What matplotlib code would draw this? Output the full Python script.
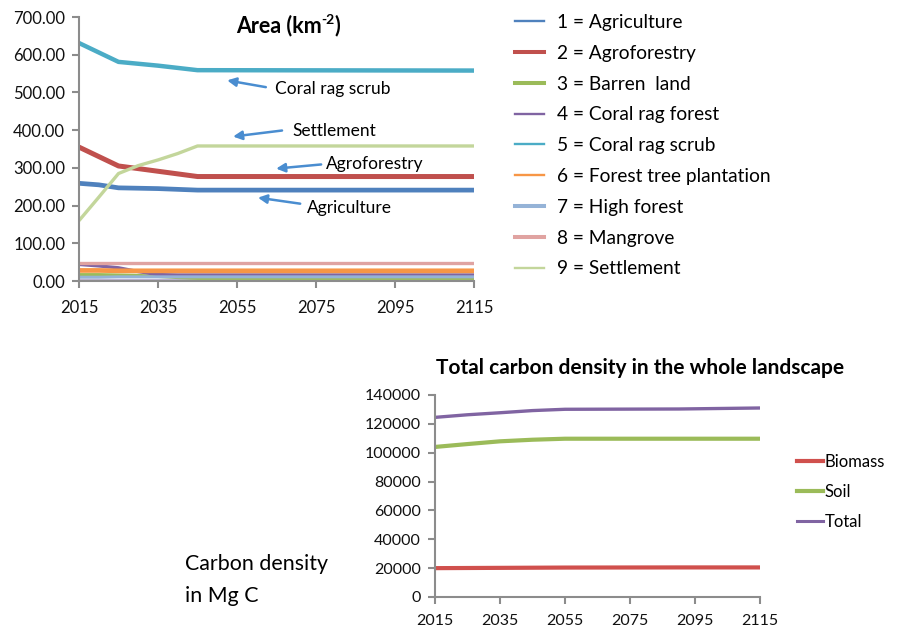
import matplotlib
matplotlib.use("Agg")
import matplotlib.pyplot as plt
from matplotlib.lines import Line2D
from matplotlib.ticker import FormatStrFormatter, FixedLocator

plt.rcParams['font.family'] = ['Lato', 'DejaVu Sans']

# ---- land-use area by class (km^-2) ----
area_years = [2015, 2020, 2025, 2030, 2035, 2040, 2045, 2115]
agriculture = [259, 255, 247, 246, 245, 243, 241, 241]
agroforestry = [355, 330, 305, 298, 291, 284, 277, 277]
barren_land = [17, 17, 16, 15, 12, 9, 7, 7]
coral_rag_forest = [44, 40, 35, 25, 17, 16, 16, 16]
coral_rag_scrub = [631, 606, 581, 576, 571, 565, 559, 558]
forest_plantation = [28, 28, 27, 27, 27, 27, 27, 27]
high_forest = [10, 10, 11, 11, 11, 11, 11, 11]
mangrove = [49, 49, 49, 49, 49, 49, 49, 49]
settlement = [160, 222, 285, 306, 321, 338, 358, 358]
other_area = [1, 1, 1, 1, 1, 1, 1, 1]

area_labels = ["1 = Agriculture", "2 = Agroforestry", "3 = Barren  land",
               "4 = Coral rag forest", "5 = Coral rag scrub",
               "6 = Forest tree plantation", "7 = High forest",
               "8 = Mangrove", "9 = Settlement"]

# ---- carbon density in the whole landscape (Mg C) ----
carbon_years = [2015, 2025, 2035, 2045, 2055, 2090, 2115]
biomass = [20000, 20100, 20200, 20300, 20400, 20500, 20500]
soil = [104000, 106000, 107900, 109000, 109700, 109700, 109700]
total = [124500, 126300, 127700, 129200, 130100, 130300, 131000]
carbon_labels = ["Biomass", "Soil", "Total"]

W, H = 917, 633
fig = plt.figure(figsize=(W / 100, H / 100), dpi=100)
renderer = fig.canvas.get_renderer()


def fx(px):
    return px / W


def fy(py):
    return 1 - py / H


axis_grey = '#8c8c8c'


def style_axes(ax, size):
    for s in ('top', 'right'):
        ax.spines[s].set_visible(False)
    for s in ('left', 'bottom'):
        ax.spines[s].set_color(axis_grey)
        ax.spines[s].set_linewidth(1.5)
    ax.tick_params(axis='both', color=axis_grey, width=1.5, length=5,
                   direction='out', labelcolor='#111111', labelsize=size)


def superscript_title(cx, cy, base, sup, tail, size):
    """Bold title with a raised, smaller superscript, centred at (cx, cy) px."""
    kw = dict(fontweight='bold', va='baseline', ha='left')
    parts = [fig.text(0, 0, base, fontsize=size, **kw),
             fig.text(0, 0, sup, fontsize=size * 0.65, **kw),
             fig.text(0, 0, tail, fontsize=size, **kw)]
    widths = [p.get_window_extent(renderer).width for p in parts]
    x = cx - sum(widths) / 2
    base_y = cy + size * 100 / 72 * 0.36
    rises = [0, size * 100 / 72 * 0.42, 0]
    for p, w, r in zip(parts, widths, rises):
        p.set_position((fx(x), fy(base_y - r)))
        x += w


# ---------- Area chart ----------
ax1 = fig.add_axes([fx(79), fy(281), fx(474 - 79), (281 - 17) / H])
series = [
    (agriculture, '#4F81BD', 3.4),
    (agroforestry, '#C0504D', 3.6),
    (barren_land, '#9BBB59', 2.2),
    (coral_rag_forest, '#8064A2', 2.4),
    (coral_rag_scrub, '#4BACC6', 3.2),
    (forest_plantation, '#F79646', 3.4),
    (high_forest, '#95B3D7', 2.2),
    (mangrove, '#E0A3A1', 2.4),
    (settlement, '#C3D69B', 2.4),
]
ax1.plot(area_years, other_area, color='#B3A7CC', lw=3.4, solid_capstyle='butt',
         label='_nolegend_', zorder=1)
for vals, col, lw in series:
    ax1.plot(area_years, vals, color=col, lw=lw, solid_capstyle='butt', zorder=2)

ax1.set_xlim(2015, 2115)
ax1.set_ylim(0, 700)
ax1.xaxis.set_major_locator(FixedLocator([2015, 2035, 2055, 2075, 2095, 2115]))
ax1.yaxis.set_major_locator(FixedLocator([0, 100, 200, 300, 400, 500, 600, 700]))
ax1.yaxis.set_major_formatter(FormatStrFormatter('%.2f'))
style_axes(ax1, 12)
ax1.tick_params(axis='x', pad=9)
ax1.tick_params(axis='y', pad=5)

superscript_title(288, 25, 'Area (km', '-2', ')', 15.5)

arrow_blue = '#4A8DD0'
notes = [
    ("Coral rag scrub", (2064.6, 508), (2062.3, 514), (2052.5, 532)),
    ("Settlement", (2069.0, 397), (2066.4, 399), (2054.0, 383)),
    ("Agroforestry", (2077.6, 311), (2076.3, 309), (2064.9, 298)),
    ("Agriculture", (2072.8, 194), (2071.0, 205), (2060.3, 221)),
]
for txt, tpos, tail, head in notes:
    ax1.text(tpos[0], tpos[1], txt, fontsize=12.5, ha='left', va='center')
    ax1.annotate('', xy=head, xytext=tail,
                 arrowprops=dict(arrowstyle='-|>', color=arrow_blue, lw=1.8,
                                 mutation_scale=13, shrinkA=0, shrinkB=0))

legend_lw = [1.7, 2.9, 2.9, 1.7, 1.7, 1.7, 2.9, 2.9, 1.7]
handles = [Line2D([], [], color=c, lw=w) for (_, c, _), w in zip(series, legend_lw)]
fig.legend(handles, area_labels, loc='upper left',
           bbox_to_anchor=(fx(515), fy(14)), frameon=False, fontsize=13.8,
           handlelength=1.5, handletextpad=0.68, labelspacing=0.72,
           borderpad=0, borderaxespad=0)

# ---------- Carbon chart ----------
ax2 = fig.add_axes([fx(435), fy(597), fx(760 - 435), (597 - 395) / H])
ax2.plot(carbon_years, biomass, color='#D0504D', lw=3.0, solid_capstyle='butt')
ax2.plot(carbon_years, soil, color='#9BBB59', lw=3.0, solid_capstyle='butt')
ax2.plot(carbon_years, total, color='#8064A2', lw=2.4, solid_capstyle='butt')
ax2.set_xlim(2015, 2115)
ax2.set_ylim(0, 140000)
ax2.xaxis.set_major_locator(FixedLocator([2015, 2035, 2055, 2075, 2095, 2115]))
ax2.yaxis.set_major_locator(FixedLocator(list(range(0, 140001, 20000))))
style_axes(ax2, 11.5)
ax2.tick_params(axis='x', pad=7)
ax2.tick_params(axis='y', pad=5)

fig.text(fx(640), fy(368), 'Total carbon density in the whole landscape',
         ha='center', va='center', fontsize=15, fontweight='bold')

c_handles = [Line2D([], [], color='#D0504D', lw=3.0),
             Line2D([], [], color='#9BBB59', lw=3.0),
             Line2D([], [], color='#8064A2', lw=2.2)]
fig.legend(c_handles, carbon_labels, loc='upper left',
           bbox_to_anchor=(fx(797), fy(454)), frameon=False, fontsize=12,
           handlelength=1.56, handletextpad=0.1, labelspacing=0.84,
           borderpad=0, borderaxespad=0)

fig.text(fx(185), fy(564), 'Carbon density', ha='left', va='center', fontsize=15.4)
fig.text(fx(185), fy(596), 'in Mg C', ha='left', va='center', fontsize=15.4)

fig.savefig('out.png', dpi=100)
